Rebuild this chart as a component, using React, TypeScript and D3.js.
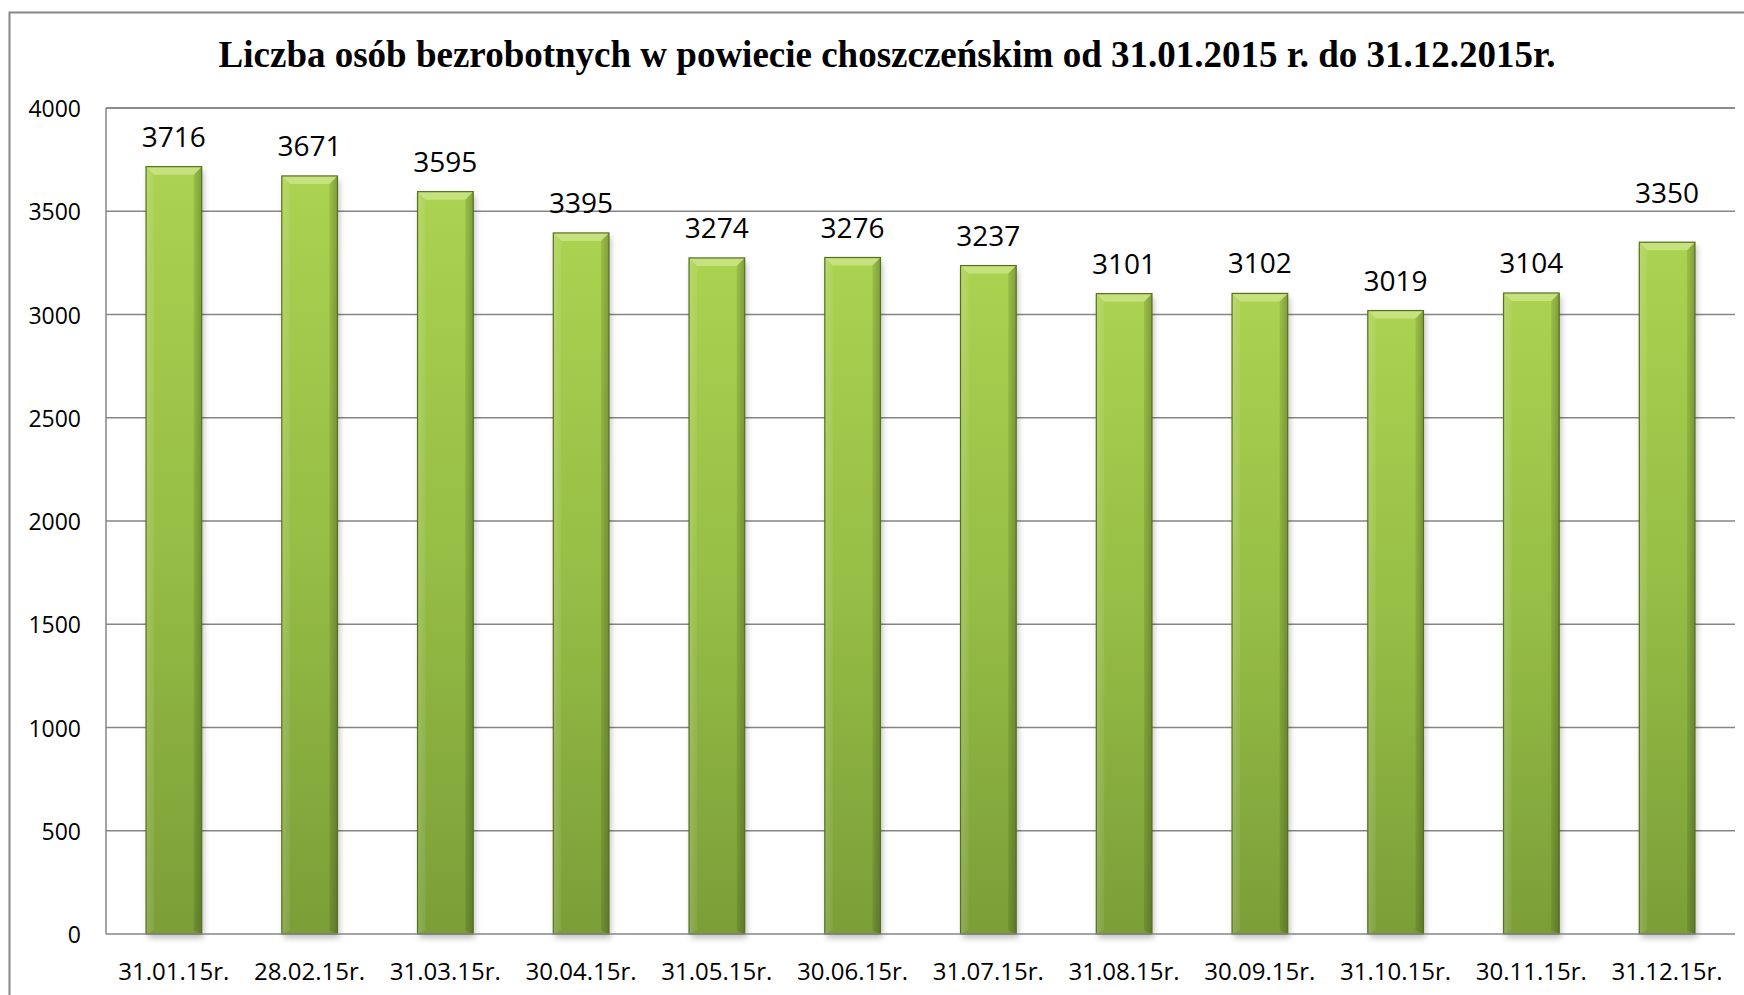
import React from "react";
import * as d3 from "d3";

const categories = ["31.01.15r.", "28.02.15r.", "31.03.15r.", "30.04.15r.", "31.05.15r.", "30.06.15r.", "31.07.15r.", "31.08.15r.", "30.09.15r.", "31.10.15r.", "30.11.15r.", "31.12.15r."];
const values = [3716, 3671, 3595, 3395, 3274, 3276, 3237, 3101, 3102, 3019, 3104, 3350];
const yTicks = [0, 500, 1000, 1500, 2000, 2500, 3000, 3500, 4000];
const title = "Liczba osób bezrobotnych w powiecie choszczeńskim od 31.01.2015 r. do 31.12.2015r.";

const W = 1744, H = 995;
const left = 106, right = 1735, top = 108, bottom = 934;

export default function App() {
  const x = d3.scaleBand<string>().domain(categories).range([left, right]).paddingInner(0.59).paddingOuter(0.295);
  const y = d3.scaleLinear().domain([0, 4000]).range([bottom, top]);
  const bw = x.bandwidth();
  const bev = 8;
  const font = "'Open Sans', sans-serif";
  return (
    <svg width={W} height={H} style={{ position: "absolute", left: 0, top: 0, background: "#fff" }}>
      <defs>
        <linearGradient id="body" x1="0" y1="0" x2="0" y2="1">
          <stop offset="0" stopColor="#abd250" />
          <stop offset="0.5" stopColor="#96bd45" />
          <stop offset="1" stopColor="#7b9e38" />
        </linearGradient>
        <linearGradient id="side" x1="0" y1="0" x2="1" y2="0">
          <stop offset="0" stopColor="#ffffff" stopOpacity="0.10" />
          <stop offset="0.12" stopColor="#ffffff" stopOpacity="0" />
          <stop offset="0.85" stopColor="#000000" stopOpacity="0" />
          <stop offset="1" stopColor="#000000" stopOpacity="0.18" />
        </linearGradient>
        <filter id="shadow" x="-30%" y="-5%" width="160%" height="115%">
          <feGaussianBlur stdDeviation="3" />
        </filter>
      </defs>
      <rect x={9.5} y={12.5} width={W + 20} height={H + 20} fill="none" stroke="#868686" strokeWidth={2} />
      <text x={887} y={54} textAnchor="middle" dominantBaseline="central" fontFamily="'Liberation Serif', 'Times New Roman', serif" fontWeight="bold" fontSize={37} fill="#000">{title}</text>
      {yTicks.map((t) => (
        <g key={t}>
          {t > 0 && <line x1={left} x2={right} y1={y(t)} y2={y(t)} stroke="#868686" strokeWidth={1.5} />}
          <text x={81} y={y(t)} textAnchor="end" dominantBaseline="central" fontFamily={font} fontSize={23} fill="#000">{t}</text>
        </g>
      ))}
      <line x1={left} x2={left} y1={top} y2={bottom} stroke="#868686" strokeWidth={1.5} />
      {categories.map((c, i) => {
        const bx = x(c)!;
        const by = y(values[i]);
        const bh = bottom - by;
        const lift = i === categories.length - 1 ? 50 : 31;
        return (
          <g key={c}>
            <rect x={bx + 2} y={by + 4} width={bw} height={bh} fill="#000" opacity={0.25} filter="url(#shadow)" />
            <rect x={bx} y={by} width={bw} height={bh} fill="url(#body)" />
            <rect x={bx} y={by} width={bw} height={bh} fill="url(#side)" />
            <polygon points={`${bx},${by} ${bx + bw},${by} ${bx + bw - bev},${by + bev} ${bx + bev},${by + bev}`} fill="#c6e27e" />
            <polygon points={`${bx},${by} ${bx + bev},${by + bev} ${bx + bev},${bottom - 4} ${bx},${bottom}`} fill="#ffffff" opacity={0.08} />
            <polygon points={`${bx + bw},${by} ${bx + bw - bev},${by + bev} ${bx + bw - bev},${bottom - 4} ${bx + bw},${bottom}`} fill="#000" opacity={0.08} />
            <rect x={bx} y={by} width={bw} height={bh} fill="none" stroke="#55701f" strokeWidth={1.2} />
            <text x={bx + bw / 2} y={by - lift} textAnchor="middle" dominantBaseline="central" fontFamily={font} fontSize={28} fill="#000">{values[i]}</text>
            <text x={bx + bw / 2} y={970} textAnchor="middle" dominantBaseline="central" fontFamily={font} fontSize={24} fill="#000">{c}</text>
          </g>
        );
      })}
      <line x1={left} x2={right} y1={bottom} y2={bottom} stroke="#868686" strokeWidth={1.5} />
      <line x1={left} x2={right} y1={top} y2={top} stroke="#868686" strokeWidth={1.5} />
    </svg>
  );
}
